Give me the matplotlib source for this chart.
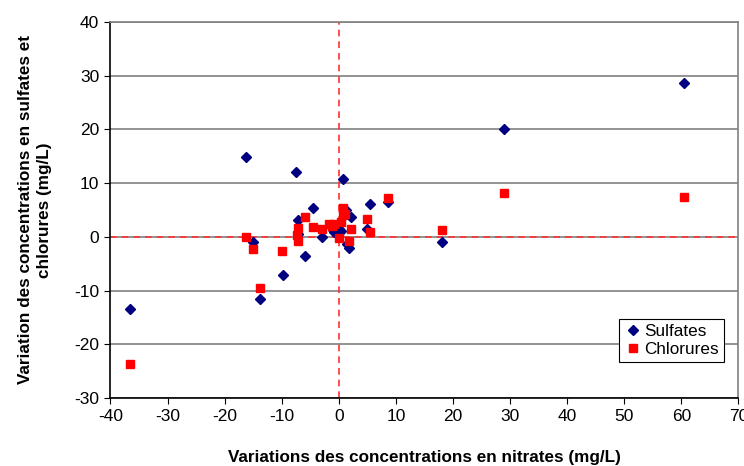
import numpy as np
from matplotlib import pyplot as plt

plt.rcParams['font.family'] = ['Liberation Sans', 'DejaVu Sans']
plt.rcParams['axes.unicode_minus'] = False

# Points (mg/L)
sulf_x = [-36.5, -16.2, -15.1, -13.8, -9.8, -7.5, -7.2, -7.2, -5.9, -4.5, -3.0, -1.1, -0.8,
          0.1, 0.4, 0.7, 1.3, 1.5, 1.7, 2.2, 4.9, 5.4, 8.6, 18.0, 28.9, 60.4]
sulf_y = [-13.5, 14.8, -1.0, -11.6, -7.2, 12.0, 3.1, 0.5, -3.6, 5.3, 0.0, 1.2, 0.9,
          1.5, 1.0, 10.7, 4.9, -1.3, -2.0, 3.7, 1.4, 6.1, 6.5, -1.0, 20.1, 28.6]

chlo_x = [-36.5, -16.2, -15.1, -13.8, -9.9, -7.2, -7.4, -7.2, -5.9, -4.5, -3.0, -1.7, -1.2, -0.9,
          0.1, 0.4, 0.7, 0.8, 1.0, 1.7, 2.1, 4.9, 5.4, 8.6, 18.0, 28.9, 60.4]
chlo_y = [-23.6, 0.0, -2.3, -9.6, -2.6, 1.7, 0.3, -0.8, 3.7, 1.8, 1.4, 2.3, 2.1, 2.3,
          -0.3, 2.8, 5.3, 4.0, 4.3, -0.8, 1.4, 3.4, 0.9, 7.3, 1.3, 8.2, 7.4]

fig = plt.figure(figsize=(7.44, 4.66), dpi=100)
ax = fig.add_axes([0.1485, 0.146, 0.844, 0.807])

# grid and the zero lines
ax.set_axisbelow(True)
ax.grid(axis='y', color='#808080', linewidth=1.2)
ax.axhline(0, color='#ff3030', linestyle=(0, (4, 3)), linewidth=1.2, zorder=1)
ax.axvline(0, color='#ff3030', linestyle=(0, (4, 3)), linewidth=1.2, zorder=1)

ax.plot(sulf_x, sulf_y, linestyle='none', marker='D', markersize=4.8,
        color='#000080', label='Sulfates', zorder=3)
ax.plot(chlo_x, chlo_y, linestyle='none', marker='s', markersize=5.8,
        color='#ff0000', label='Chlorures', zorder=3)

ax.set_xlim(-40, 70)
ax.set_ylim(-30, 40)
ax.set_xticks(np.arange(-40, 71, 10))
ax.set_yticks(np.arange(-30, 41, 10))
ax.tick_params(direction='out', length=4, labelsize=12.5, colors='black', pad=4)

for s in ['top', 'right']:
    ax.spines[s].set_color('#808080')
    ax.spines[s].set_linewidth(1.2)
for s in ['left', 'bottom']:
    ax.spines[s].set_color('black')
    ax.spines[s].set_linewidth(1.2)

ax.set_xlabel('Variations des concentrations en nitrates (mg/L)', fontsize=12.3,
              fontweight='bold', labelpad=19)
ax.set_ylabel('Variation des concentrations en sulfates et\nchlorures (mg/L)', fontsize=12.3,
              fontweight='bold', labelpad=16, linespacing=1.35)

leg = ax.legend(loc='lower right', bbox_to_anchor=(0.977, 0.095), fontsize=12.3,
                fancybox=False, framealpha=1, edgecolor='black', borderpad=0.3,
                handletextpad=0.15, handlelength=1.0, labelspacing=0.2, borderaxespad=0)
leg.get_frame().set_linewidth(0.8)

plt.savefig('out.png', dpi=100)
